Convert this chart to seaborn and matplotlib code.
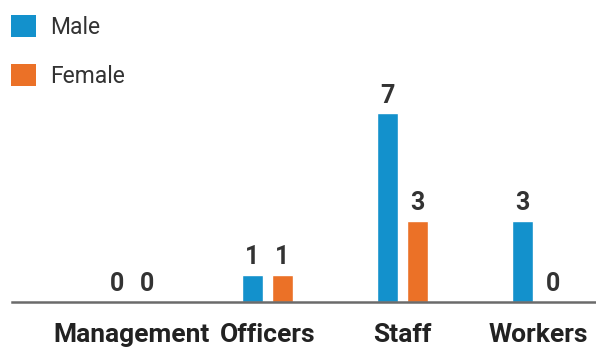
import matplotlib
matplotlib.use("Agg")
import matplotlib.pyplot as plt
from matplotlib.patches import Patch
import seaborn as sns
import pandas as pd

categories = ["Management", "Officers", "Staff", "Workers"]
male = [0, 1, 7, 3]
female = [0, 1, 3, 0]
series_names = ["Male", "Female"]
colors = ["#1391cc", "#eb7127"]

df = pd.DataFrame({
    "category": categories * 2,
    "gender": [series_names[0]] * len(categories) + [series_names[1]] * len(categories),
    "count": male + female,
})

sns.set_theme(style="white")
plt.rcParams["font.family"] = ["Roboto", "DejaVu Sans"]

fig = plt.figure(figsize=(5.96, 3.49), dpi=100)
ax = fig.add_axes([12 / 596, 47 / 349, 584 / 596, 302 / 349])

sns.barplot(data=df, x="category", y="count", hue="gender", order=categories,
            hue_order=series_names, palette=colors, width=0.445, gap=0.31,
            saturation=1, legend=False, ax=ax)

for container in ax.containers:
    ax.bar_label(container, padding=4, fontsize=18, fontweight="bold", color="#333333")

ax.set_xlim(-0.887, 3.43)
ax.set_ylim(0, 11.19)
ax.set_xlabel("")
ax.set_ylabel("")
ax.set_yticks([])
ax.tick_params(axis="x", length=0, pad=15, labelsize=19, labelcolor="#222222")
for lbl in ax.get_xticklabels():
    lbl.set_fontweight("bold")
for side in ["top", "right", "left"]:
    ax.spines[side].set_visible(False)
ax.spines["bottom"].set_color("#6b6b6b")
ax.spines["bottom"].set_linewidth(1.8)

handles = [Patch(facecolor=c, edgecolor="none") for c in colors]
fig.legend(handles, series_names, loc="upper left", bbox_to_anchor=(0.0, 1.0 - 4 / 349),
           frameon=False, fontsize=16.5, handlelength=1.09, handleheight=1.09,
           handletextpad=0.6, labelspacing=1.1, borderpad=0.2, borderaxespad=0.3,
           labelcolor="#333333")

fig.savefig("out.png", dpi=100)
